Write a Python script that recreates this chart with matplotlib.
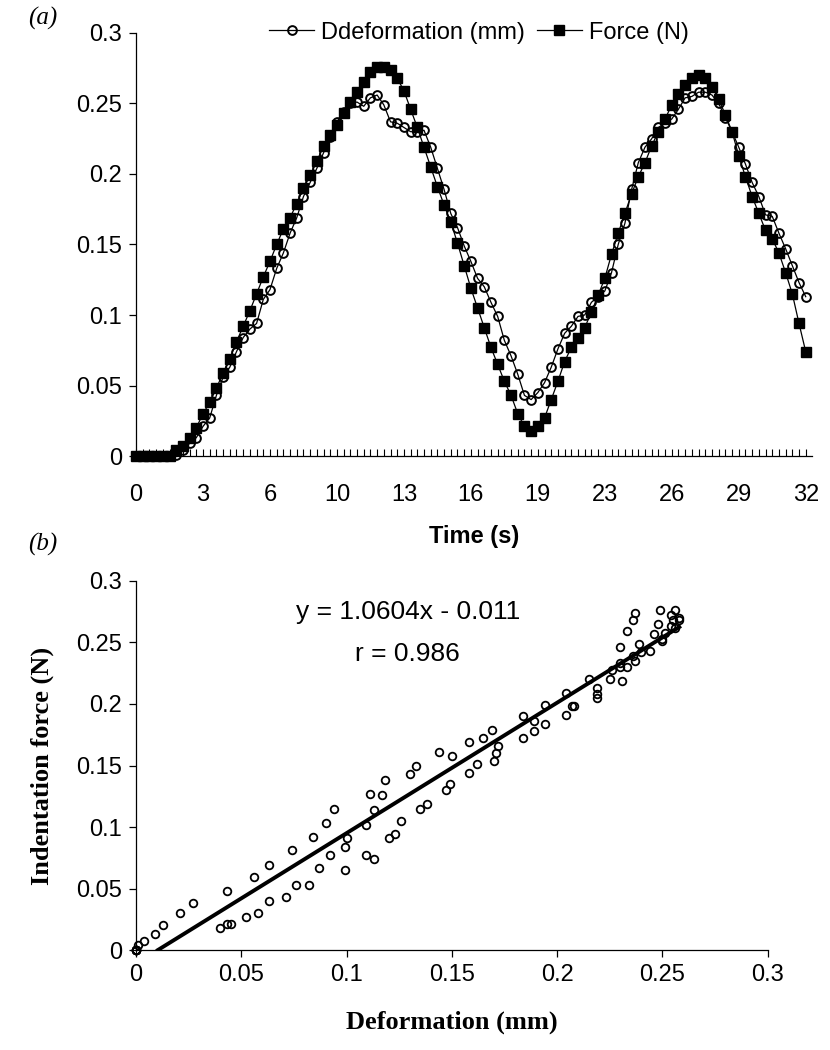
import numpy as np
import matplotlib
matplotlib.use("Agg")
import matplotlib.pyplot as plt
from matplotlib import font_manager

# (a) time series, one value per sample (101 samples over 32 s)
deformation = [0, 0, 0, 0, 0, 0, 0.001, 0.004, 0.009, 0.013,
               0.021, 0.027, 0.043, 0.056, 0.063, 0.074, 0.084, 0.090, 0.094, 0.111,
               0.118, 0.133, 0.144, 0.158, 0.169, 0.184, 0.194, 0.204, 0.215, 0.226,
               0.237, 0.244, 0.250, 0.251, 0.248, 0.254, 0.256, 0.249, 0.237, 0.236,
               0.233, 0.230, 0.230, 0.231, 0.219, 0.204, 0.189, 0.172, 0.162, 0.149,
               0.138, 0.126, 0.120, 0.109, 0.099, 0.082, 0.071, 0.058, 0.043, 0.040,
               0.045, 0.052, 0.063, 0.076, 0.087, 0.092, 0.099, 0.100, 0.109, 0.113,
               0.117, 0.130, 0.150, 0.165, 0.189, 0.208, 0.219, 0.225, 0.233, 0.236,
               0.239, 0.246, 0.254, 0.255, 0.258, 0.258, 0.256, 0.250, 0.240, 0.230,
               0.219, 0.207, 0.194, 0.184, 0.171, 0.170, 0.158, 0.147, 0.135, 0.123,
               0.113]
force = [0, 0, 0, 0, 0, 0, 0.004, 0.007, 0.013, 0.020,
         0.030, 0.038, 0.048, 0.059, 0.069, 0.081, 0.092, 0.103, 0.115, 0.127,
         0.138, 0.150, 0.161, 0.169, 0.179, 0.190, 0.199, 0.209, 0.220, 0.228,
         0.235, 0.243, 0.251, 0.258, 0.265, 0.272, 0.276, 0.276, 0.274, 0.268,
         0.259, 0.246, 0.233, 0.219, 0.205, 0.191, 0.178, 0.166, 0.151, 0.135,
         0.119, 0.105, 0.091, 0.077, 0.065, 0.053, 0.043, 0.030, 0.021, 0.018,
         0.021, 0.027, 0.040, 0.053, 0.067, 0.077, 0.084, 0.091, 0.102, 0.114,
         0.126, 0.143, 0.158, 0.172, 0.186, 0.198, 0.208, 0.220, 0.230, 0.239,
         0.249, 0.257, 0.263, 0.268, 0.270, 0.268, 0.262, 0.253, 0.242, 0.230,
         0.213, 0.198, 0.184, 0.172, 0.160, 0.154, 0.144, 0.130, 0.115, 0.094,
         0.074]
time_labels = ['0', '3', '6', '10', '13', '16', '19', '23', '26', '29', '32']
y_labels = ['0', '0.05', '0.1', '0.15', '0.2', '0.25', '0.3']

# (b) linear fit shown on the chart
slope = 1.0604
intercept = -0.011
r_value = 0.986

names = {f.name for f in font_manager.fontManager.ttflist}
sans = 'Liberation Sans Narrow' if 'Liberation Sans Narrow' in names else 'Liberation Sans'
tick_size = 20 if sans == 'Liberation Sans Narrow' else 17
plt.rcParams['font.family'] = [sans, 'DejaVu Sans']

fig = plt.figure(figsize=(8.3, 10.5), dpi=100)

# ---- (a) ----
ax1 = fig.add_axes([0.1639, 0.5657, 0.8141, 0.4029])
idx = np.arange(len(force))
ax1.plot(idx, deformation, '-o', color='black', lw=0.9, ms=6.3, mfc='none', mew=1.4,
         clip_on=False, label='Ddeformation (mm)', zorder=3)
ax1.plot(idx, force, '-s', color='black', lw=0.9, ms=6.8, clip_on=False,
         label='Force (N)', zorder=4)
ax1.set_xlim(0, 100.9)
ax1.set_ylim(0, 0.3)
ax1.set_xticks(np.arange(0, 101, 10))
ax1.set_xticklabels(time_labels)
ax1.set_xticks(idx, minor=True)
ax1.set_yticks(np.linspace(0, 0.3, 7))
ax1.set_yticklabels(y_labels)
ax1.tick_params(axis='x', which='both', direction='in', length=5, width=0.8,
                pad=20, labelsize=tick_size)
ax1.tick_params(axis='y', direction='out', length=5, width=0.9, pad=5, labelsize=tick_size)
for s in ['top', 'right']:
    ax1.spines[s].set_visible(False)
for s in ['left', 'bottom']:
    ax1.spines[s].set_linewidth(0.9)
ax1.set_xlabel('Time (s)', fontsize=tick_size, fontweight='bold', labelpad=14)
fig.legend(loc='center', bbox_to_anchor=(0.577, 0.969), ncol=2, frameon=False,
           fontsize=tick_size, handlelength=1.9, handletextpad=0.3, columnspacing=0.5)
fig.text(0.034, 0.982, '(a)', family='Liberation Serif', style='italic', fontsize=18,
         va='center', ha='left')

# ---- (b) ----
ax2 = fig.add_axes([0.1639, 0.0952, 0.7611, 0.3515])
ax2.plot(deformation, force, 'o', color='black', ms=5.5, mfc='none', mew=1.3,
         clip_on=False, zorder=3)
x0 = -intercept / slope
x1 = max(deformation)
ax2.plot([x0, x1], [slope * x0 + intercept, slope * x1 + intercept], color='black',
         lw=2.8, zorder=4)
ax2.set_xlim(0, 0.3)
ax2.set_ylim(0, 0.3)
ax2.set_xticks(np.linspace(0, 0.3, 7))
ax2.set_xticklabels(y_labels)
ax2.set_yticks(np.linspace(0, 0.3, 7))
ax2.set_yticklabels(y_labels)
ax2.tick_params(direction='out', length=5, width=0.9, pad=5, labelsize=tick_size)
for s in ['top', 'right']:
    ax2.spines[s].set_visible(False)
for s in ['left', 'bottom']:
    ax2.spines[s].set_linewidth(0.9)
ax2.set_xlabel('Deformation (mm)', family='Liberation Serif', fontweight='bold',
               fontsize=19, labelpad=18)
ax2.set_ylabel('Indentation force (N)', family='Liberation Serif', fontweight='bold',
               fontsize=19, labelpad=16)
ax2.text(0.129, 0.275, f'y = {slope:.4f}x - {-intercept:.3f}', fontsize=tick_size + 2,
         ha='center', va='center')
ax2.text(0.129, 0.241, f'r = {r_value:.3f}', fontsize=tick_size + 2, ha='center', va='center')
fig.text(0.034, 0.481, '(b)', family='Liberation Serif', style='italic', fontsize=18,
         va='center', ha='left')

fig.savefig('out.png', dpi=100)
